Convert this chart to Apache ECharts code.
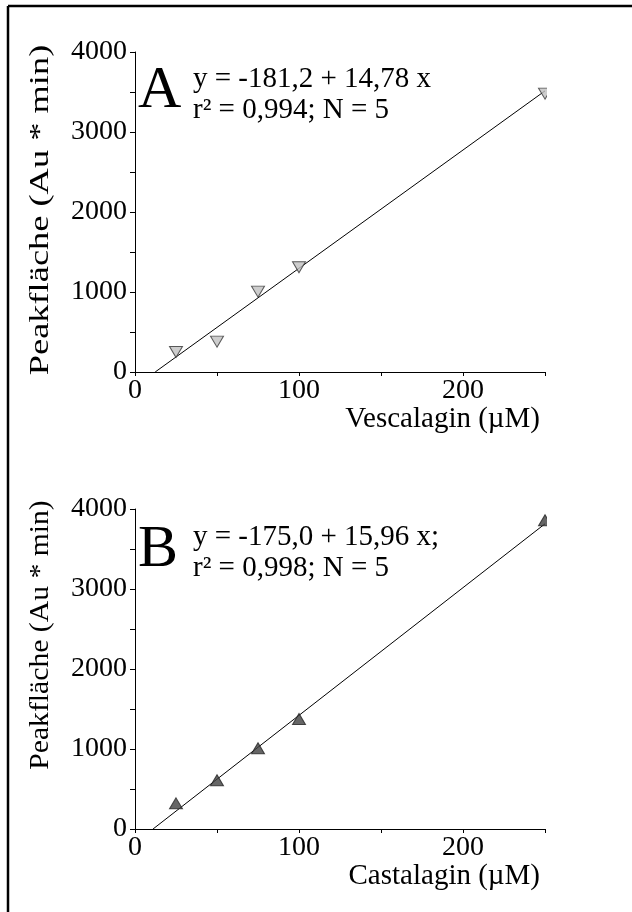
<!DOCTYPE html>
<html>
<head>
<meta charset="utf-8">
<script src="https://cdn.jsdelivr.net/npm/echarts@6/dist/echarts.min.js"></script>
<style>
html,body{margin:0;padding:0;background:#fff;}
#chart{width:632px;height:912px;}
</style>
</head>
<body>
<div id="chart"></div>
<script>
// ---- data ----
const concA = [25, 50, 75, 100, 250];          // Vescalagin (µM)
const areaA = [250, 380, 1005, 1310, 3480];    // Peakfläche
const fitAx = [12.3, 250];
const fitAy = [0, 3514];

const concB = [25, 50, 75, 100, 250];          // Castalagin (µM)
const areaB = [320, 610, 1010, 1375, 3860];
const fitBx = [11, 250];
const fitBy = [0, 3815];

const xTicks = [0, 100, 200];
const yTicks = [0, 1000, 2000, 3000, 4000];

const labelA = 'A';
const labelB = 'B';
const eqA = ['y = -181,2 + 14,78 x', 'r² = 0,994; N = 5'];
const eqB = ['y = -175,0 + 15,96 x;', 'r² = 0,998; N = 5'];
const xTitleA = 'Vescalagin (µM)';
const xTitleB = 'Castalagin (µM)';
const yTitle = 'Peakfläche (Au * min)';

// ---- chart ----
const FONT = 'Liberation Serif';
const chart = echarts.init(document.getElementById('chart'), null, {renderer: 'canvas'});

function pairs(xs, ys) { return xs.map((x, i) => [x, ys[i]]); }

function xAxisCfg(idx, title) {
  return {
    type: 'value', gridIndex: idx, min: 0, max: 250, interval: 50,
    axisLine: {show: true, onZero: false, lineStyle: {color: '#000', width: 1}},
    axisTick: {show: true, inside: false, length: 4, lineStyle: {color: '#000'}},
    splitLine: {show: false},
    axisLabel: {
      color: '#000', fontFamily: FONT, fontSize: 28, margin: 5,
      formatter: v => xTicks.includes(v) ? String(v) : ''
    },
    name: title, nameLocation: 'end', nameGap: -5,
    nameTextStyle: {color: '#000', fontFamily: FONT, fontSize: 29, align: 'right', verticalAlign: 'top', padding: [33, 0, 0, 0]}
  };
}
function yAxisCfg(idx) {
  return {
    type: 'value', gridIndex: idx, min: 0, max: 4000, interval: 500,
    axisLine: {show: true, onZero: false, lineStyle: {color: '#000', width: 1}},
    axisTick: {show: true, inside: false, length: 5, lineStyle: {color: '#000'}},
    splitLine: {show: false},
    axisLabel: {
      color: '#000', fontFamily: FONT, fontSize: 28, margin: 8,
      formatter: v => yTicks.includes(v) ? String(v) : ''
    }
  };
}

function yTitleText(cx, cy, stretch) {
  return {
    type: 'text', x: cx, y: cy, rotation: Math.PI / 2, scaleX: stretch, z: 50,
    style: {text: yTitle, font: '28px "Liberation Serif"', fill: '#000', align: 'center', verticalAlign: 'middle'}
  };
}

const option = {
  backgroundColor: '#fff',
  animation: false,
  grid: [
    {left: 135, width: 410, top: 52, height: 320},
    {left: 135, width: 410, top: 509, height: 320}
  ],
  xAxis: [xAxisCfg(0, xTitleA), xAxisCfg(1, xTitleB)],
  yAxis: [yAxisCfg(0), yAxisCfg(1)],
  series: [
    {
      type: 'line', xAxisIndex: 0, yAxisIndex: 0, data: pairs(fitAx, fitAy),
      showSymbol: false, lineStyle: {color: '#000', width: 1}, z: 2
    },
    {
      type: 'scatter', xAxisIndex: 0, yAxisIndex: 0, data: pairs(concA, areaA),
      symbol: 'triangle', symbolRotate: 180, symbolSize: [13, 11],
      itemStyle: {color: '#c0c0c0', borderColor: '#333', borderWidth: 1}, z: 3
    },
    {
      type: 'line', xAxisIndex: 1, yAxisIndex: 1, data: pairs(fitBx, fitBy),
      showSymbol: false, lineStyle: {color: '#000', width: 1}, z: 2
    },
    {
      type: 'scatter', xAxisIndex: 1, yAxisIndex: 1, data: pairs(concB, areaB),
      symbol: 'triangle', symbolSize: [13, 11],
      itemStyle: {color: '#404040', borderColor: '#222', borderWidth: 1}, z: 3
    }
  ],
  graphic: [
    // cropping mask on the right (reference figure is cut there)
    {type: 'rect', left: 547, top: 8, shape: {width: 90, height: 910}, style: {fill: '#fff'}, z: 100},
    // frame (left + top only visible)
    {type: 'line', shape: {x1: 8, y1: 6, x2: 632, y2: 6}, style: {stroke: '#000', lineWidth: 2.5}, z: 101},
    {type: 'line', shape: {x1: 8, y1: 6, x2: 8, y2: 912}, style: {stroke: '#000', lineWidth: 2.5}, z: 101},
    // y axis titles
    yTitleText(40.5, 210, 1.3),
    yTitleText(40.5, 635, 1.06),
    // panel letters and equations
    {type: 'text', left: 138, top: 61, style: {text: labelA, font: '60px "Liberation Serif"', fill: '#000'}, z: 50},
    {type: 'text', left: 193, top: 64, style: {text: eqA.join('\n'), font: '29px "Liberation Serif"', lineHeight: 31, fill: '#000'}, z: 50},
    {type: 'text', left: 138, top: 520, style: {text: labelB, font: '60px "Liberation Serif"', fill: '#000'}, z: 50},
    {type: 'text', left: 193, top: 522, style: {text: eqB.join('\n'), font: '29px "Liberation Serif"', lineHeight: 31, fill: '#000'}, z: 50}
  ]
};
chart.setOption(option);
</script>
</body>
</html>
